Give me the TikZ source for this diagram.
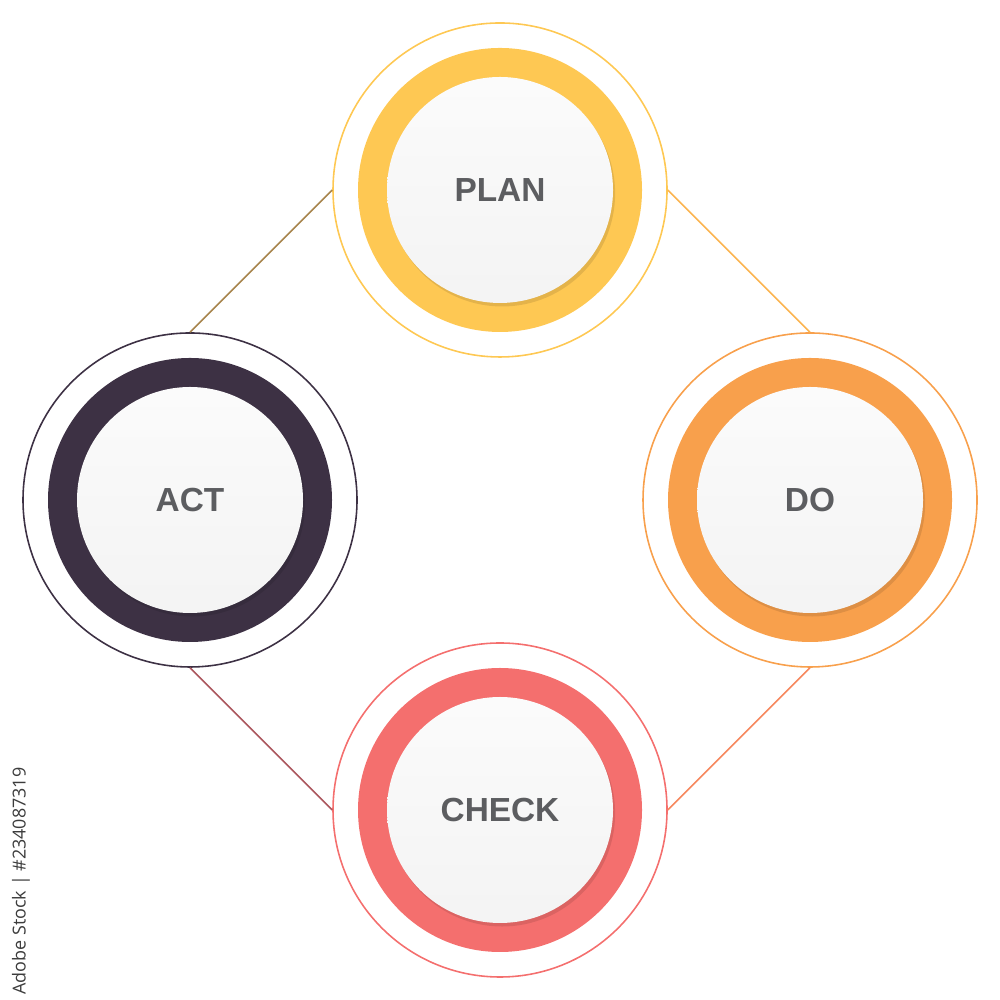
\documentclass[tikz,border=0pt]{standalone}
\usepackage{fontspec}
\setmainfont{Liberation Sans}
\newfontfamily\stockfont{Open Sans}
\usetikzlibrary{shadows}
\definecolor{planc}{RGB}{254,200,83}
\definecolor{doc}{RGB}{248,160,76}
\definecolor{checkc}{RGB}{244,111,110}
\definecolor{actc}{RGB}{61,49,68}
\definecolor{labelc}{RGB}{92,93,96}
\definecolor{stockc}{RGB}{60,60,60}
\tikzset{every node/.style={circle,inner sep=0pt}}
\tikzset{halo/.style={draw,line width=0.45pt,minimum size=33.4mm}}
\tikzset{ring/.style={minimum size=28.4mm}}
\tikzset{disc/.style={minimum size=22.6mm,top color=gray!3,bottom color=gray!9,
  drop shadow={shadow xshift=0.6pt,shadow yshift=-1pt,opacity=.1,fill=black},
  font=\fontsize{9.5}{12}\selectfont\bfseries,text=labelc}}
\tikzset{link/.style={line width=0.45pt}}

\begin{document}
\begin{tikzpicture}
\useasboundingbox (0,0) rectangle (10,10);
\node[halo,draw=planc](plan) at (5,8.1) {};
\node[halo,draw=doc](do) at (8.1,5) {};
\node[halo,draw=checkc](check) at (5,1.9) {};
\node[halo,draw=actc](act) at (1.9,5) {};

\node[ring,fill=planc](planring) at (plan) {};
\node[ring,fill=doc](doring) at (do) {};
\node[ring,fill=checkc](checkring) at (check) {};
\node[ring,fill=actc](actring) at (act) {};

\node[disc](plandisc) at (plan) {PLAN};
\node[disc](dodisc) at (do) {DO};
\node[disc](checkdisc) at (check) {CHECK};
\node[disc](actdisc) at (act) {ACT};

\draw[link,draw=actc!45!planc] (act.north) -- (plan.west);
\draw[link,draw=planc!50!doc] (plan.east) -- (do.north);
\draw[link,draw=doc!50!checkc] (do.south) -- (check.east);
\draw[link,draw=checkc!60!actc] (check.west) -- (act.south);

\node[rectangle,rotate=90,text=stockc,font=\stockfont\fontsize{5.1}{6}\selectfont](stock) at (0.21,1.19) {Adobe Stock | \#234087319};
\end{tikzpicture}
\end{document}
